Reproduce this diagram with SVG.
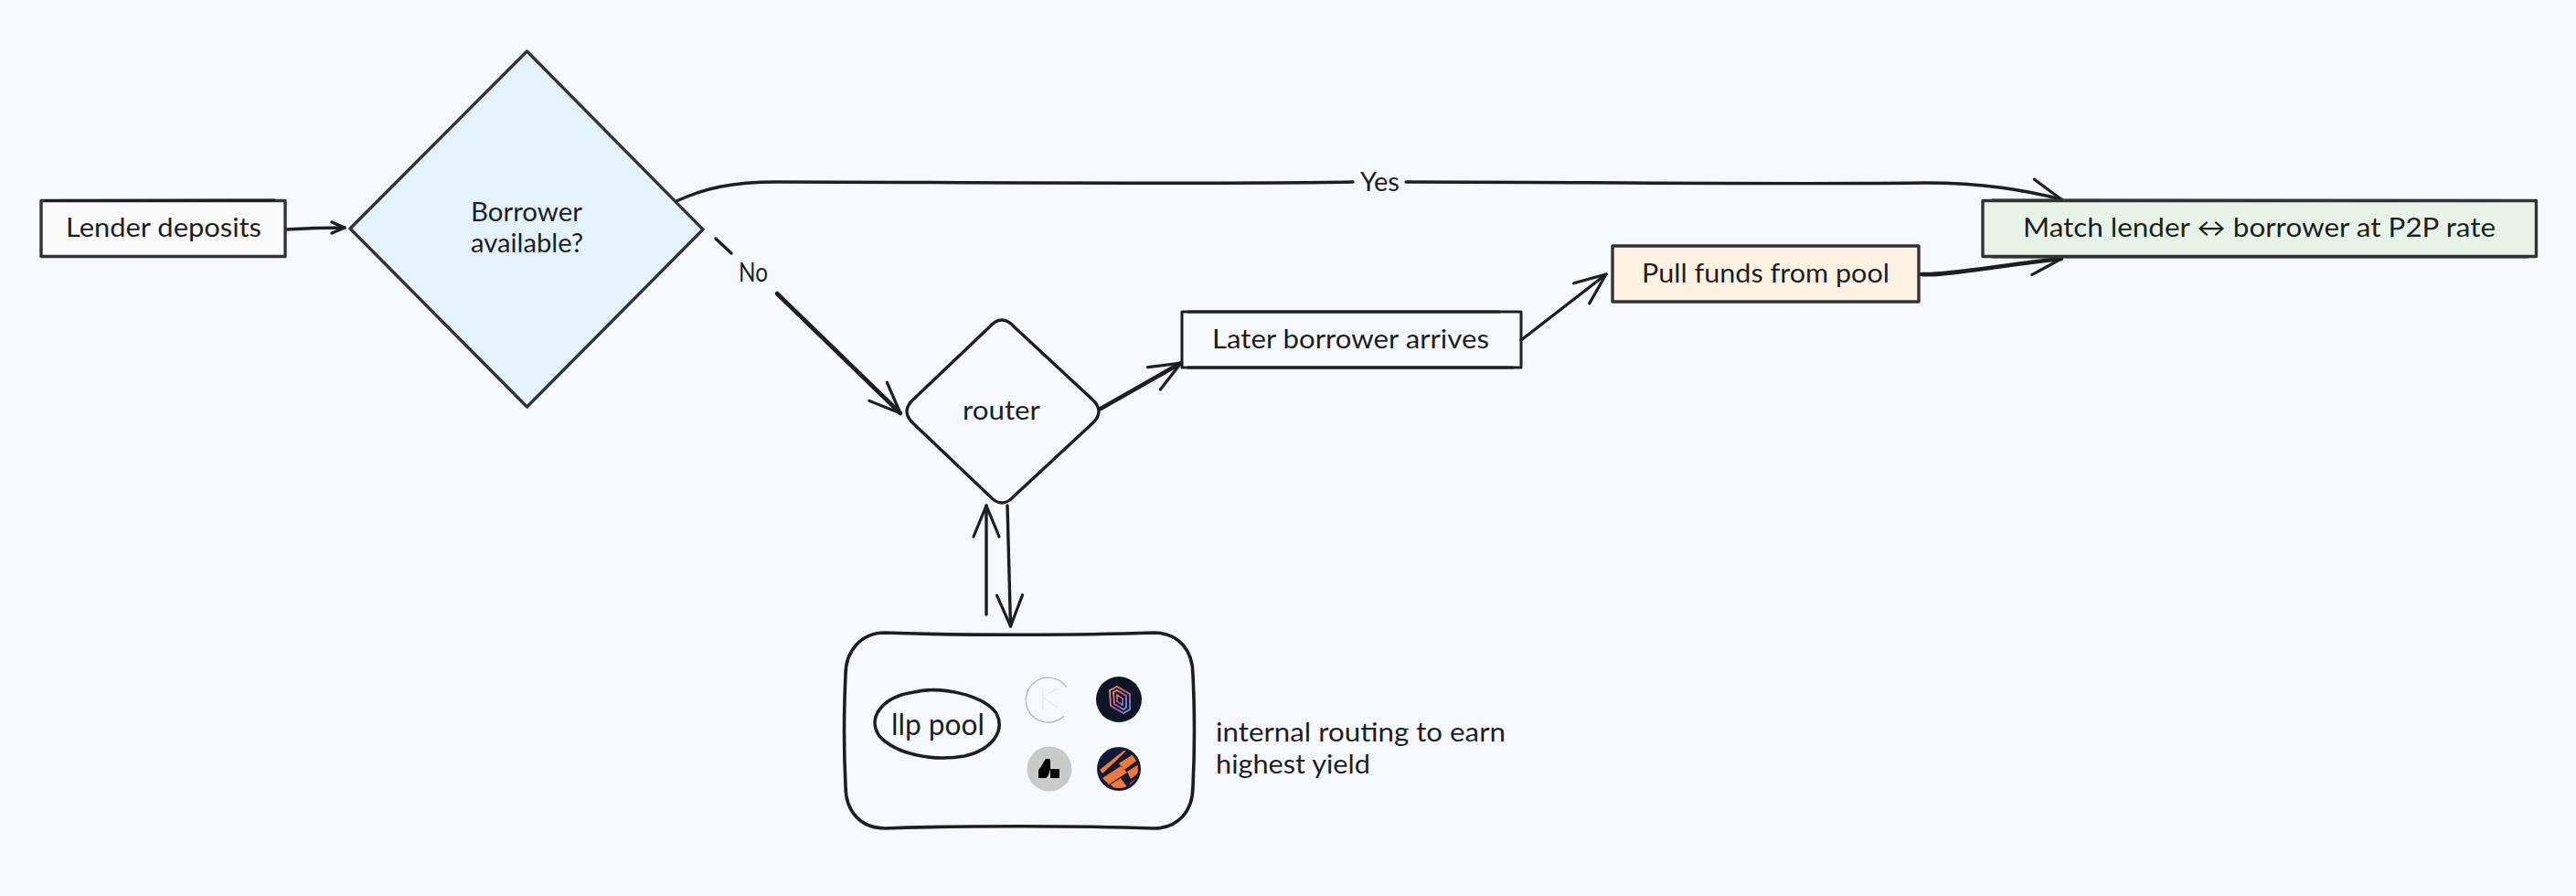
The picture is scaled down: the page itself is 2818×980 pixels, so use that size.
<svg xmlns="http://www.w3.org/2000/svg" width="2818" height="980" viewBox="0 0 2818 980">
<style>
text{font-family:"Lato","Noto Sans","Liberation Sans",sans-serif;font-size:28px;fill:#1e1e1e}
.s{fill:none;stroke:#1e1e1e;stroke-width:3;stroke-linecap:round;stroke-linejoin:round}
.f{stroke:#333;stroke-width:3.4;stroke-linejoin:round}
.c{fill:none;stroke:#1e1e1e;stroke-width:3.4;stroke-linecap:round;stroke-linejoin:round}
.h{stroke-width:4.6}
.e{marker-end:url(#arrow)}
.m{marker-end:url(#small)}
</style>
<defs>
<marker id="arrow" viewBox="-38 -18 42 36" refX="0" refY="0" markerWidth="42" markerHeight="36" markerUnits="userSpaceOnUse" orient="auto">
<path d="M-34 -14L0 0L-34 14" fill="none" stroke="#1e1e1e" stroke-width="3.2" stroke-linecap="round" stroke-linejoin="round"/>
</marker>
<marker id="small" viewBox="-20 -10 24 20" refX="0" refY="0" markerWidth="24" markerHeight="20" markerUnits="userSpaceOnUse" orient="auto">
<path d="M-14 -6L0 0L-14 6" fill="none" stroke="#1e1e1e" stroke-width="3.2" stroke-linecap="round" stroke-linejoin="round"/>
</marker>
<clipPath id="orangeClip"><circle cx="1224" cy="841" r="21"/></clipPath>
<linearGradient id="hex" x1="0" y1="0" x2="1" y2="1"><stop offset="0" stop-color="#f09a70"/><stop offset="0.55" stop-color="#c050b0"/><stop offset="1" stop-color="#5aa8e8"/></linearGradient>
</defs>
<rect width="2818" height="980" fill="#f6faff"/>
<g id="connectors">
<path class="c m" d="M312 251Q345 249 377 249"/>
<path class="c e" d="M740 220C770 206 800 199 850 199C1000 199 1300 202 1480 199M1538 199C1700 199 1950 202 2106 200C2170 200 2215 208 2255 218"/>
<path class="c" d="M783 261L800 277"/>
<path class="c h e" d="M850 321L985 452"/>
<path class="c h e" d="M1204 447L1292 397"/>
<path class="c e" d="M1079 672L1079 553"/>
<path class="c e" d="M1102 553L1105.500 685"/>
<path class="c e" d="M1664 372L1757 300"/>
<path class="c h e" d="M2102 300C2125 302 2190 290 2255 283"/>
<text x="1488" y="209" textLength="43" lengthAdjust="spacingAndGlyphs">Yes</text>
<text x="808" y="308" textLength="32" lengthAdjust="spacingAndGlyphs">No</text>
</g>
<g id="lender">
<rect class="f" x="45" y="219.500" width="267" height="61" fill="#fafafa"/>
<path class="s" d="M50 219.500L300 219"/>
<text x="72" y="259" textLength="214" lengthAdjust="spacingAndGlyphs">Lender deposits</text>
</g>
<g id="borrower">
<path class="f" d="M383 250L576.500 56L769 251L576.500 445Z" fill="#e4f3fd"/>
<text x="515" y="242" textLength="122" lengthAdjust="spacingAndGlyphs">Borrower</text>
<text x="515" y="276" textLength="123" lengthAdjust="spacingAndGlyphs">available?</text>
</g>
<g id="router">
<path class="s" d="M1082 358Q1096 342 1110 358L1194 436Q1210 450 1194 464L1110 542Q1096 558 1082 542L1000 464Q984 450 1000 436Z" style="stroke-width:3.4"/>
<text x="1053" y="459" textLength="85" lengthAdjust="spacingAndGlyphs">router</text>
</g>
<g id="later">
<rect class="s" x="1293" y="341" width="371" height="61"/>
<path class="s" d="M1300 341L1640 341M1300 402L1655 402"/>
<text x="1326" y="381" textLength="303" lengthAdjust="spacingAndGlyphs">Later borrower arrives</text>
</g>
<g id="pull">
<rect class="f" x="1764" y="269" width="335" height="61" fill="#fff4e3"/>
<text x="1796" y="309" textLength="271" lengthAdjust="spacingAndGlyphs">Pull funds from pool</text>
</g>
<g id="match">
<rect class="f" x="2169" y="219.500" width="605.500" height="61" fill="#e8f4e8"/>
<path class="s" d="M2180 219L2760 219.500M2180 281L2765 281" style="stroke:#333"/>
<text x="2213" y="259" textLength="517" lengthAdjust="spacingAndGlyphs">Match lender ↔ borrower at P2P rate</text>
</g>
<g id="pool">
<path class="s" d="M968 692C1050 695 1180 695 1262 692C1290 692 1305 712 1305 738C1307 780 1307 820 1305 860C1305 888 1288 906 1262 906C1180 903 1050 903 968 906C942 906 925 888 925 860C923 820 923 780 925 738C925 712 942 692 968 692Z" style="stroke-width:3.6"/>
<g id="llp">
<path class="s" d="M1000 757C1030 750 1075 760 1090 780C1100 800 1085 820 1055 827C1020 833 980 825 962 805C948 785 965 762 1000 757Z" style="stroke-width:3.6"/>
<text x="975" y="804" textLength="102" lengthAdjust="spacingAndGlyphs" style="font-size:32px">llp pool</text>
</g>
<g id="logos">
<path d="M1167 752A24.500 24.500 0 1 0 1164 783" fill="none" stroke="#aab6b8" stroke-width="1.200"/>
<path d="M1141 753V775M1141 763L1157 774M1146 759L1157 753" fill="none" stroke="#e6edef" stroke-width="1.500"/>
<circle cx="1224" cy="765" r="25" fill="#0e1626"/>
<path d="M1214 755L1222 751L1236 759V776L1229 780L1215 772Z" fill="none" stroke="url(#hex)" stroke-width="1.800"/>
<path d="M1218 757L1222 755L1232 761V774L1229 776L1219 770Z" fill="none" stroke="url(#hex)" stroke-width="1.800"/>
<path d="M1222 760L1228 764V771L1222 767Z" fill="none" stroke="url(#hex)" stroke-width="1.500"/>
<circle cx="1148" cy="841" r="24.500" fill="#c9cbc9"/>
<path d="M1136 851V842C1140 838 1142 832 1144 830H1149V841C1148 846 1146 851 1143 851Z" fill="#000"/>
<rect x="1149" y="841" width="10" height="10" fill="#000"/>
<circle cx="1224" cy="841" r="24" fill="#101a38"/>
<g clip-path="url(#orangeClip)" fill="#f07838">
<path d="M1203 842L1228 822L1235 818L1220 833L1206 846Z"/>
<path d="M1224 835L1244 822L1246 830L1230 842Z"/>
<path d="M1206 851L1226 838L1233 845L1213 858Z"/>
<path d="M1233 844L1246 836L1246 845L1237 852Z"/>
<path d="M1215 858L1226 851L1234 862L1222 866Z"/>
<path d="M1236 857L1246 848L1244 862L1232 866Z"/>
</g>
</g>
</g>
<g id="note">
<text x="1330" y="811" textLength="317" lengthAdjust="spacingAndGlyphs">internal routing to earn</text>
<text x="1330" y="846" textLength="169" lengthAdjust="spacingAndGlyphs">highest yield</text>
</g>
</svg>
